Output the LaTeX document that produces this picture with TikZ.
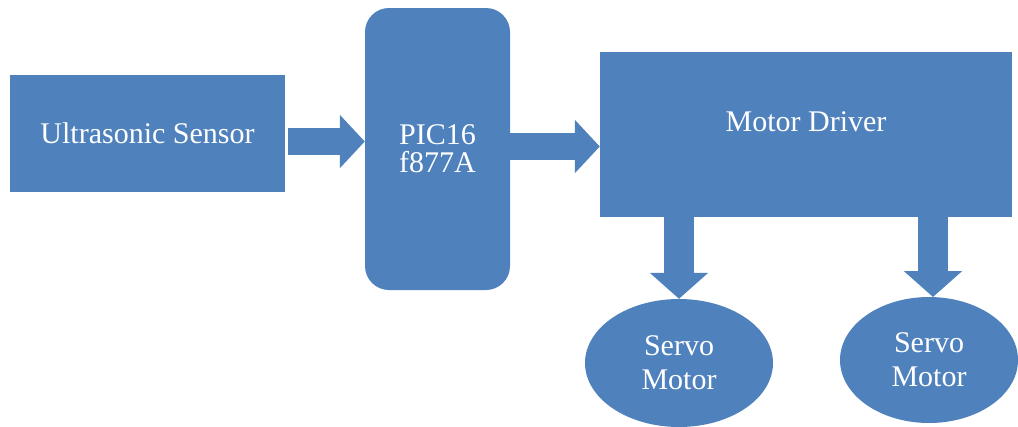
\documentclass[tikz,border=0pt]{standalone}
\usepackage{fontspec}
\setmainfont{Liberation Serif}
\usetikzlibrary{shapes.geometric,arrows.meta}
\definecolor{blk}{RGB}{79,129,189}
\begin{document}
\begin{tikzpicture}[x=1pt,y=-1pt,
  blockfill/.style={fill=blk,draw=none,text=white,inner sep=0pt,
    font=\fontsize{30}{34}\selectfont},
  bigarrow/.style={draw=blk,line width=27pt,line cap=butt,
    -{Triangle[width=52pt,length=25pt]}},
  downarrow/.style={draw=blk,line width=30pt,line cap=butt,
    -{Triangle[width=57pt,length=26pt]}}]
\useasboundingbox (0,0) rectangle (1018,426);
\node[blockfill,minimum width=275pt,minimum height=117pt] (us) at (147.5,133.5) {Ultrasonic Sensor};
\node[blockfill,rounded corners=24pt,minimum width=145pt,minimum height=282pt,align=center,
  font=\fontsize{30}{28}\selectfont] (pic) at (437.5,149) {PIC16\\f877A};
\node[blockfill,minimum width=412pt,minimum height=165pt] (md) at (806,134.5) {};
\node[text=white,font=\fontsize{30}{34}\selectfont,inner sep=0pt] (mdt) at (806,122) {Motor Driver};
\node[blockfill,ellipse,minimum width=188pt,minimum height=128pt,align=center] (s1) at (679,363) {Servo\\Motor};
\node[blockfill,ellipse,minimum width=178pt,minimum height=126pt,align=center] (s2) at (929,360) {Servo\\Motor};
\coordinate (a1s) at ([xshift=3pt]us.east);
\draw[bigarrow] (a1s |- 0,141.5) -- (pic.west |- 0,141.5);
\draw[bigarrow] (pic.east |- 0,146.5) -- (md.west |- 0,146.5);
\draw[downarrow] (md.south -| s1.north) -- (s1.north);
\draw[downarrow] (md.south -| 933,0) -- (933,297);
\end{tikzpicture}
\end{document}
